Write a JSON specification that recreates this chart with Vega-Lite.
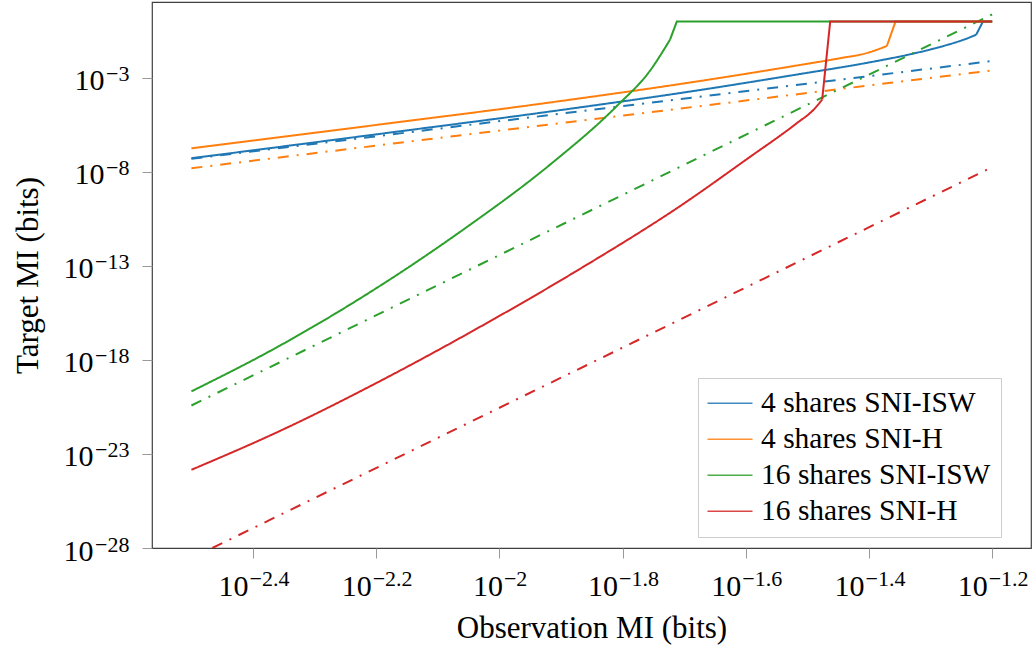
{
  "$schema": "https://vega.github.io/schema/vega-lite/v6.json",
  "width": 879,
  "height": 546,
  "autosize": {"type": "none"},
  "padding": {"left": 152, "top": 2, "right": 2, "bottom": 97},
  "background": "white",
  "config": {
    "view": {"stroke": "#404040", "strokeWidth": 1.2},
    "font": "Liberation Serif"
  },
  "data": {
    "values": [
      {"series": "4 shares SNI-ISW", "kind": "bound", "part": "curve", "log10_observation_mi": -2.5, "log10_target_mi": -7.27},
      {"series": "4 shares SNI-ISW", "kind": "bound", "part": "curve", "log10_observation_mi": -2.2, "log10_target_mi": -6.0},
      {"series": "4 shares SNI-ISW", "kind": "bound", "part": "curve", "log10_observation_mi": -1.919, "log10_target_mi": -4.79},
      {"series": "4 shares SNI-ISW", "kind": "bound", "part": "curve", "log10_observation_mi": -1.674, "log10_target_mi": -3.64},
      {"series": "4 shares SNI-ISW", "kind": "bound", "part": "curve", "log10_observation_mi": -1.512, "log10_target_mi": -2.79},
      {"series": "4 shares SNI-ISW", "kind": "bound", "part": "curve", "log10_observation_mi": -1.404, "log10_target_mi": -2.2},
      {"series": "4 shares SNI-ISW", "kind": "bound", "part": "curve", "log10_observation_mi": -1.333, "log10_target_mi": -1.74},
      {"series": "4 shares SNI-ISW", "kind": "bound", "part": "curve", "log10_observation_mi": -1.279, "log10_target_mi": -1.3},
      {"series": "4 shares SNI-ISW", "kind": "bound", "part": "curve", "log10_observation_mi": -1.241, "log10_target_mi": -0.9},
      {"series": "4 shares SNI-ISW", "kind": "bound", "part": "curve", "log10_observation_mi": -1.226, "log10_target_mi": -0.7},
      {"series": "4 shares SNI-ISW", "kind": "bound", "part": "cap", "log10_observation_mi": -1.226, "log10_target_mi": -0.7},
      {"series": "4 shares SNI-ISW", "kind": "bound", "part": "cap", "log10_observation_mi": -1.215, "log10_target_mi": 0},
      {"series": "4 shares SNI-ISW", "kind": "bound", "part": "cap", "log10_observation_mi": -1.2, "log10_target_mi": 0},
      {"series": "4 shares SNI-ISW", "kind": "asymptotic", "part": "curve", "log10_observation_mi": -2.5, "log10_target_mi": -7.3},
      {"series": "4 shares SNI-ISW", "kind": "asymptotic", "part": "curve", "log10_observation_mi": -1.2, "log10_target_mi": -2.1},
      {"series": "4 shares SNI-H", "kind": "bound", "part": "curve", "log10_observation_mi": -2.5, "log10_target_mi": -6.74},
      {"series": "4 shares SNI-H", "kind": "bound", "part": "curve", "log10_observation_mi": -2.2, "log10_target_mi": -5.5},
      {"series": "4 shares SNI-H", "kind": "bound", "part": "curve", "log10_observation_mi": -1.919, "log10_target_mi": -4.31},
      {"series": "4 shares SNI-H", "kind": "bound", "part": "curve", "log10_observation_mi": -1.674, "log10_target_mi": -3.16},
      {"series": "4 shares SNI-H", "kind": "bound", "part": "curve", "log10_observation_mi": -1.512, "log10_target_mi": -2.31},
      {"series": "4 shares SNI-H", "kind": "bound", "part": "curve", "log10_observation_mi": -1.447, "log10_target_mi": -1.95},
      {"series": "4 shares SNI-H", "kind": "bound", "part": "curve", "log10_observation_mi": -1.404, "log10_target_mi": -1.68},
      {"series": "4 shares SNI-H", "kind": "bound", "part": "curve", "log10_observation_mi": -1.371, "log10_target_mi": -1.3},
      {"series": "4 shares SNI-H", "kind": "bound", "part": "cap", "log10_observation_mi": -1.371, "log10_target_mi": -1.3},
      {"series": "4 shares SNI-H", "kind": "bound", "part": "cap", "log10_observation_mi": -1.357, "log10_target_mi": 0},
      {"series": "4 shares SNI-H", "kind": "bound", "part": "cap", "log10_observation_mi": -1.2, "log10_target_mi": 0},
      {"series": "4 shares SNI-H", "kind": "asymptotic", "part": "curve", "log10_observation_mi": -2.5, "log10_target_mi": -7.8},
      {"series": "4 shares SNI-H", "kind": "asymptotic", "part": "curve", "log10_observation_mi": -1.2, "log10_target_mi": -2.6},
      {"series": "16 shares SNI-ISW", "kind": "bound", "part": "curve", "log10_observation_mi": -2.5, "log10_target_mi": -19.67},
      {"series": "16 shares SNI-ISW", "kind": "bound", "part": "curve", "log10_observation_mi": -2.356, "log10_target_mi": -17.23},
      {"series": "16 shares SNI-ISW", "kind": "bound", "part": "curve", "log10_observation_mi": -2.193, "log10_target_mi": -14.04},
      {"series": "16 shares SNI-ISW", "kind": "bound", "part": "curve", "log10_observation_mi": -2.058, "log10_target_mi": -11.05},
      {"series": "16 shares SNI-ISW", "kind": "bound", "part": "curve", "log10_observation_mi": -1.917, "log10_target_mi": -7.59},
      {"series": "16 shares SNI-ISW", "kind": "bound", "part": "curve", "log10_observation_mi": -1.809, "log10_target_mi": -4.48},
      {"series": "16 shares SNI-ISW", "kind": "bound", "part": "curve", "log10_observation_mi": -1.755, "log10_target_mi": -2.59},
      {"series": "16 shares SNI-ISW", "kind": "bound", "part": "curve", "log10_observation_mi": -1.723, "log10_target_mi": -0.96},
      {"series": "16 shares SNI-ISW", "kind": "bound", "part": "cap", "log10_observation_mi": -1.723, "log10_target_mi": -0.96},
      {"series": "16 shares SNI-ISW", "kind": "bound", "part": "cap", "log10_observation_mi": -1.712, "log10_target_mi": 0},
      {"series": "16 shares SNI-ISW", "kind": "bound", "part": "cap", "log10_observation_mi": -1.2, "log10_target_mi": 0},
      {"series": "16 shares SNI-ISW", "kind": "asymptotic", "part": "curve", "log10_observation_mi": -2.5, "log10_target_mi": -20.42},
      {"series": "16 shares SNI-ISW", "kind": "asymptotic", "part": "curve", "log10_observation_mi": -1.2, "log10_target_mi": 0.38},
      {"series": "16 shares SNI-H", "kind": "bound", "part": "curve", "log10_observation_mi": -2.5, "log10_target_mi": -23.84},
      {"series": "16 shares SNI-H", "kind": "bound", "part": "curve", "log10_observation_mi": -2.356, "log10_target_mi": -21.77},
      {"series": "16 shares SNI-H", "kind": "bound", "part": "curve", "log10_observation_mi": -2.193, "log10_target_mi": -19.11},
      {"series": "16 shares SNI-H", "kind": "bound", "part": "curve", "log10_observation_mi": -2.031, "log10_target_mi": -16.23},
      {"series": "16 shares SNI-H", "kind": "bound", "part": "curve", "log10_observation_mi": -1.869, "log10_target_mi": -13.15},
      {"series": "16 shares SNI-H", "kind": "bound", "part": "curve", "log10_observation_mi": -1.706, "log10_target_mi": -9.8},
      {"series": "16 shares SNI-H", "kind": "bound", "part": "curve", "log10_observation_mi": -1.598, "log10_target_mi": -7.31},
      {"series": "16 shares SNI-H", "kind": "bound", "part": "curve", "log10_observation_mi": -1.517, "log10_target_mi": -5.4},
      {"series": "16 shares SNI-H", "kind": "bound", "part": "curve", "log10_observation_mi": -1.49, "log10_target_mi": -4.69},
      {"series": "16 shares SNI-H", "kind": "bound", "part": "curve", "log10_observation_mi": -1.476, "log10_target_mi": -4.15},
      {"series": "16 shares SNI-H", "kind": "bound", "part": "cap", "log10_observation_mi": -1.476, "log10_target_mi": -4.15},
      {"series": "16 shares SNI-H", "kind": "bound", "part": "cap", "log10_observation_mi": -1.463, "log10_target_mi": 0},
      {"series": "16 shares SNI-H", "kind": "bound", "part": "cap", "log10_observation_mi": -1.2, "log10_target_mi": 0},
      {"series": "16 shares SNI-H", "kind": "asymptotic", "part": "curve", "log10_observation_mi": -2.466, "log10_target_mi": -28.0},
      {"series": "16 shares SNI-H", "kind": "asymptotic", "part": "curve", "log10_observation_mi": -1.2, "log10_target_mi": -7.74}
    ]
  },
  "layer": [
    {
      "transform": [{"filter": "datum.part == 'curve'"}],
      "mark": {"type": "line", "strokeWidth": 2, "interpolate": "monotone", "clip": true},
      "encoding": {
        "x": {
          "field": "log10_observation_mi",
          "type": "quantitative",
          "scale": {"domain": [-2.564, -1.137], "nice": false, "zero": false},
          "axis": {
            "orient": "bottom",
            "title": "Observation MI (bits)",
            "values": [-2.4, -2.2, -2, -1.8, -1.6, -1.4, -1.2],
            "labelExpr": "'10'",
            "labelAlign": "right",
            "labelBaseline": "alphabetic",
            "labelOffset": {"condition": {"test": "datum.value == -2", "value": 3}, "value": -5},
            "labelPadding": 37,
            "labelFlush": false,
            "labelOverlap": false,
            "grid": false,
            "domain": false,
            "tickColor": "#999999",
            "tickSize": 10,
            "tickWidth": 1,
            "labelFont": "Liberation Serif",
            "labelFontSize": 30,
            "labelColor": "black",
            "titleFont": "Liberation Serif",
            "titleFontSize": 31,
            "titleFontWeight": "normal",
            "titleColor": "black",
            "titlePadding": 12
          }
        },
        "y": {
          "field": "log10_target_mi",
          "type": "quantitative",
          "scale": {"domain": [-28, 1.04], "nice": false, "zero": false},
          "axis": {
            "orient": "left",
            "title": "Target MI (bits)",
            "values": [-3, -8, -13, -18, -23, -28],
            "labelExpr": "'10'",
            "labelAlign": "right",
            "labelBaseline": "alphabetic",
            "labelOffset": 12,
            "labelPadding": {"condition": {"test": "datum.value > -10", "value": 38}, "value": 49},
            "labelFlush": false,
            "labelOverlap": false,
            "grid": false,
            "domain": false,
            "tickColor": "#999999",
            "tickSize": 10,
            "tickWidth": 1,
            "labelFont": "Liberation Serif",
            "labelFontSize": 30,
            "labelColor": "black",
            "titleFont": "Liberation Serif",
            "titleFontSize": 31,
            "titleFontWeight": "normal",
            "titleColor": "black",
            "titlePadding": 19
          }
        },
        "color": {
          "field": "series",
          "type": "nominal",
          "scale": {
            "domain": ["4 shares SNI-ISW", "4 shares SNI-H", "16 shares SNI-ISW", "16 shares SNI-H"],
            "range": ["#1f77b4", "#ff7f0e", "#2ca02c", "#d62728"]
          },
          "legend": {
            "title": null,
            "orient": "none",
            "legendX": 546,
            "legendY": 376,
            "symbolType": "M-2.1,0H3.9",
            "symbolSize": 225,
            "symbolStrokeWidth": 1.3,
            "symbolOpacity": 0.85,
            "labelFont": "Liberation Serif",
            "labelFontSize": 29.5,
            "labelColor": "black",
            "labelOffset": 23,
            "labelLimit": 500,
            "rowPadding": 5,
            "padding": 10.5,
            "strokeColor": "#cccccc",
            "fillColor": "white",
            "cornerRadius": 0
          }
        },
        "strokeDash": {
          "field": "kind",
          "type": "nominal",
          "scale": {"domain": ["bound", "asymptotic"], "range": [[1, 0], [11, 8, 2, 8]]},
          "legend": null
        }
      }
    },
    {
      "transform": [{"filter": "datum.part == 'cap'"}],
      "mark": {"type": "line", "strokeWidth": 2, "clip": true},
      "encoding": {
        "x": {"field": "log10_observation_mi", "type": "quantitative", "axis": null},
        "y": {"field": "log10_target_mi", "type": "quantitative", "axis": null},
        "color": {"field": "series", "type": "nominal"}
      }
    },
    {
      "mark": {"type": "point", "opacity": 0, "size": 1},
      "encoding": {
        "x": {
          "field": "log10_observation_mi",
          "type": "quantitative",
          "axis": {
            "orient": "bottom",
            "title": null,
            "values": [-2.4, -2.2, -2, -1.8, -1.6, -1.4, -1.2],
            "labelExpr": "datum.value == -2.4 ? '−2.4' : datum.value == -2.2 ? '−2.2' : datum.value == -2 ? '−2' : datum.value == -1.8 ? '−1.8' : datum.value == -1.6 ? '−1.6' : datum.value == -1.4 ? '−1.4' : '−1.2'",
            "labelAlign": "left",
            "labelBaseline": "alphabetic",
            "labelOffset": {"condition": {"test": "datum.value == -2", "value": 4}, "value": -4},
            "labelPadding": 27,
            "labelFlush": false,
            "labelOverlap": false,
            "grid": false,
            "domain": false,
            "ticks": true,
            "tickOpacity": 0,
            "tickSize": 10,
            "labelFont": "Liberation Serif",
            "labelFontSize": 22,
            "labelColor": "black"
          }
        },
        "y": {
          "field": "log10_target_mi",
          "type": "quantitative",
          "axis": {
            "orient": "left",
            "title": null,
            "values": [-3, -8, -13, -18, -23, -28],
            "labelExpr": "datum.value == -3 ? '−3' : datum.value == -8 ? '−8' : datum.value == -13 ? '−13' : datum.value == -18 ? '−18' : datum.value == -23 ? '−23' : '−28'",
            "labelAlign": "right",
            "labelBaseline": "alphabetic",
            "labelOffset": 3,
            "labelPadding": 13,
            "labelFlush": false,
            "labelOverlap": false,
            "grid": false,
            "domain": false,
            "ticks": true,
            "tickOpacity": 0,
            "tickSize": 10,
            "labelFont": "Liberation Serif",
            "labelFontSize": 22,
            "labelColor": "black"
          }
        }
      }
    }
  ],
  "resolve": {"axis": {"x": "independent", "y": "independent"}}
}
